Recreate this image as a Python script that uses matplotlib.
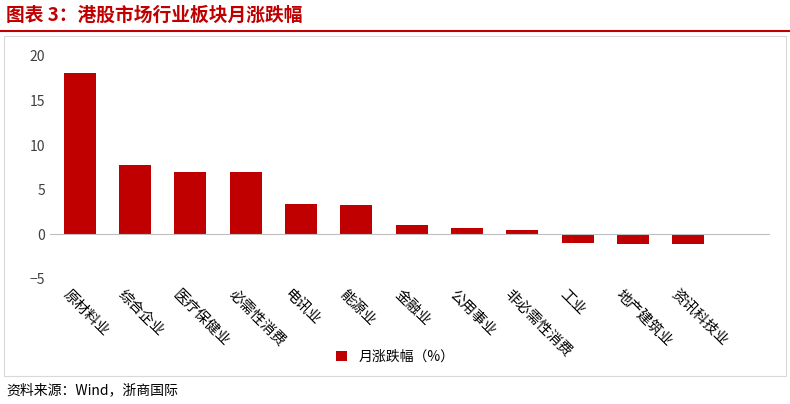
import matplotlib
matplotlib.use("Agg")
import matplotlib.pyplot as plt
from matplotlib.lines import Line2D
from matplotlib.patches import Rectangle

plt.rcParams['font.family'] = ['Noto Sans CJK SC', 'DejaVu Sans']

categories = ["原材料业", "综合企业", "医疗保健业", "必需性消费", "电讯业", "能源业", "金融业",
              "公用事业", "非必需性消费", "工业", "地产建筑业", "资讯科技业"]
values = [18.1, 7.8, 7.0, 7.0, 3.4, 3.3, 1.0, 0.7, 0.5, -1.0, -1.1, -1.1]
yticks = [-5, 0, 5, 10, 15, 20]

W, H = 790, 404
fig = plt.figure(figsize=(W/100, H/100), dpi=100)
red = '#C00000'

fig.text(6/W, 1-15/H, "图表 3：港股市场行业板块月涨跌幅", color=red, fontsize=13.5,
         fontweight='bold', va='center', ha='left')
fig.add_artist(Line2D([0, 1], [1-31/H, 1-31/H], color=red, lw=1.5))
fig.add_artist(Rectangle((4/W, 1-376/H), 782/W, 340/H, fill=False, ec='#d9d9d9', lw=0.8))

ax = fig.add_axes([50/W, 1-279/H, 720/W, 223/H])
x = range(len(categories))
ax.bar(x, values, width=0.58, color=red, label="月涨跌幅（%）")
ax.set_ylim(-5, 20)
ax.set_xlim(-0.54, 12.48)
ax.set_yticks(yticks)
ax.tick_params(axis='y', length=0, labelsize=10, colors='#404040')
ax.tick_params(axis='x', length=0, pad=6)
ax.set_xticks(list(x))
ax.set_xticklabels(categories, rotation=-45, ha='left', rotation_mode='anchor', fontsize=10.5)
for lab in ax.get_xticklabels():
    lab.set_x(lab.get_position()[0])
import matplotlib.transforms as mtrans
off = mtrans.ScaledTranslation(-10/100, 0, fig.dpi_scale_trans)
for lab in ax.get_xticklabels():
    lab.set_transform(lab.get_transform() + off)
for s in ax.spines.values():
    s.set_visible(False)
ax.axhline(0, color='#bfbfbf', lw=0.8)
ax.legend(loc='center', bbox_to_anchor=(0.5, 1-357/H), bbox_transform=fig.transFigure,
          frameon=False, fontsize=10, handlelength=0.8, handleheight=0.8)

fig.text(6/W, 1-390/H, "资料来源：Wind，浙商国际", fontsize=10, va='center', ha='left')
fig.savefig("out.png", dpi=100)
